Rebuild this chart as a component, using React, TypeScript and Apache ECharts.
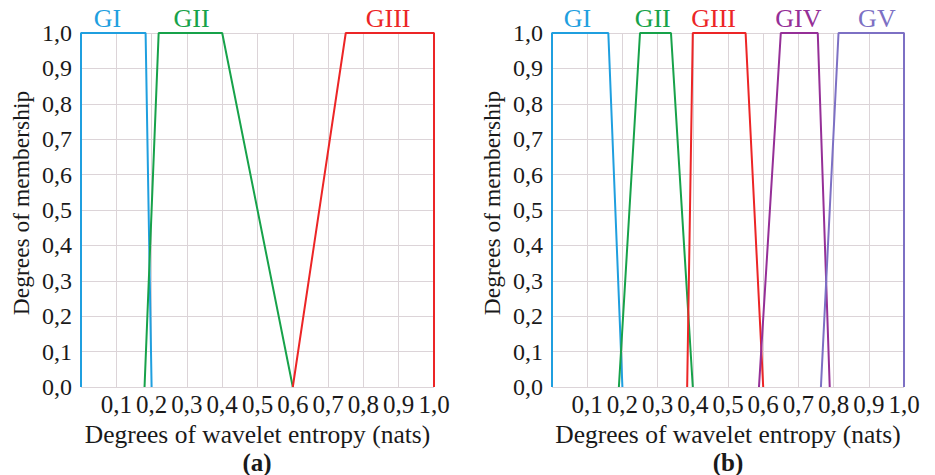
import React, { useEffect, useRef } from "react";
import * as echarts from "echarts";

// Panel (a): membership functions, points [entropy, membership]
const a_GI = [[0, 0], [0, 1], [0.183, 1], [0.2, 0]];
const a_GII = [[0.18, 0], [0.22, 1], [0.4, 1], [0.6, 0]];
const a_GIII = [[0.6, 0], [0.75, 1], [1.0, 1], [1.0, 0]];

// Panel (b)
const b_GI = [[0, 0], [0, 1], [0.16, 1], [0.2, 0]];
const b_GII = [[0.19, 0], [0.25, 1], [0.338, 1], [0.4, 0]];
const b_GIII = [[0.384, 0], [0.4, 1], [0.55, 1], [0.6, 0]];
const b_GIV = [[0.588, 0], [0.65, 1], [0.755, 1], [0.789, 0]];
const b_GV = [[0.764, 0], [0.814, 1], [1.0, 1], [1.0, 0]];

// Label anchor x positions (data units)
const aLabels = [["GI", 0.075], ["GII", 0.313], ["GIII", 0.87]];
const bLabels = [["GI", 0.072], ["GII", 0.286], ["GIII", 0.459], ["GIV", 0.70], ["GV", 0.923]];

const COLORS: Record<string, string> = {
  GI: "#1f9fdf",
  GII: "#17a24a",
  GIII: "#ec2526",
  GIV: "#952f97",
  GV: "#7d70c4",
};

const X_TITLE = "Degrees of wavelet entropy (nats)";
const Y_TITLE = "Degrees of membership";
const FONT = "Liberation Serif";

export default function App() {
  const ref = useRef<HTMLDivElement>(null);
  useEffect(() => {
    document.body.style.margin = "0";
    const chart = echarts.init(ref.current!, undefined, { renderer: "svg" });
    const fmt = (v: number) => v.toFixed(1).replace(".", ",");
    const mkX = (gridIndex: number) => ({
      type: "value",
      gridIndex,
      min: 0,
      max: 1,
      interval: 0.1,
      axisLine: { show: false },
      axisTick: { show: false },
      splitLine: { show: true, lineStyle: { color: "#dcd4d8", width: 1 } },
      axisLabel: {
        formatter: (v: number) => (v === 0 ? "" : fmt(v)),
        fontFamily: FONT,
        fontSize: 25,
        color: "#1a1a1a",
        margin: 5,
      },
      name: X_TITLE,
      nameLocation: "middle",
      nameGap: 29,
      nameTextStyle: { fontFamily: FONT, fontSize: 25.5, color: "#1a1a1a" },
    });
    const mkY = (gridIndex: number) => ({
      type: "value",
      gridIndex,
      min: 0,
      max: 1,
      interval: 0.1,
      axisLine: { show: false },
      axisTick: { show: false },
      splitLine: { show: true, lineStyle: { color: "#dcd4d8", width: 1 } },
      axisLabel: {
        formatter: (v: number) => fmt(v),
        fontFamily: FONT,
        fontSize: 24,
        color: "#1a1a1a",
        margin: 9,
      },
      name: Y_TITLE,
      nameLocation: "middle",
      nameRotate: 90,
      nameGap: 48,
      nameTextStyle: { fontFamily: FONT, fontSize: 23.5, color: "#1a1a1a", padding: [0, 0, 0, 14] },
    });
    const mkSeries = (name: string, data: number[][], idx: number, labelX: number) => ({
      type: "line",
      name,
      xAxisIndex: idx,
      yAxisIndex: idx,
      data,
      showSymbol: false,
      symbol: "none",
      clip: false,
      lineStyle: { color: COLORS[name], width: 2 },
      markPoint: {
        symbol: "circle",
        symbolSize: 0,
        silent: true,
        data: [
          {
            coord: [labelX, 1],
            label: {
              show: true,
              formatter: name,
              position: "top",
              distance: 2,
              fontFamily: FONT,
              fontSize: 26,
              color: COLORS[name],
            },
          },
        ],
      },
    });
    const aData: Record<string, number[][]> = { GI: a_GI, GII: a_GII, GIII: a_GIII };
    const bData: Record<string, number[][]> = { GI: b_GI, GII: b_GII, GIII: b_GIII, GIV: b_GIV, GV: b_GV };
    const series: any[] = [];
    aLabels.forEach(([n, x]) => series.push(mkSeries(n as string, aData[n as string], 0, x as number)));
    bLabels.forEach(([n, x]) => series.push(mkSeries(n as string, bData[n as string], 1, x as number)));

    chart.setOption({
      animation: false,
      backgroundColor: "#ffffff",
      textStyle: { fontFamily: FONT },
      grid: [
        { left: 81, top: 33, width: 353, height: 354 },
        { left: 552, top: 33, width: 352, height: 354 },
      ],
      xAxis: [mkX(0), mkX(1)],
      yAxis: [mkY(0), mkY(1)],
      series,
      graphic: [
        {
          type: "text",
          x: 257,
          y: 462,
          style: {
            text: "(a)",
            fontFamily: FONT,
            fontSize: 25,
            fontWeight: "bold",
            fill: "#1a1a1a",
            textAlign: "center",
            textVerticalAlign: "middle",
          },
        },
        {
          type: "text",
          x: 728,
          y: 462,
          style: {
            text: "(b)",
            fontFamily: FONT,
            fontSize: 25,
            fontWeight: "bold",
            fill: "#1a1a1a",
            textAlign: "center",
            textVerticalAlign: "middle",
          },
        },
      ],
    });
    return () => chart.dispose();
  }, []);
  return <div ref={ref} style={{ width: 935, height: 475 }} />;
}
